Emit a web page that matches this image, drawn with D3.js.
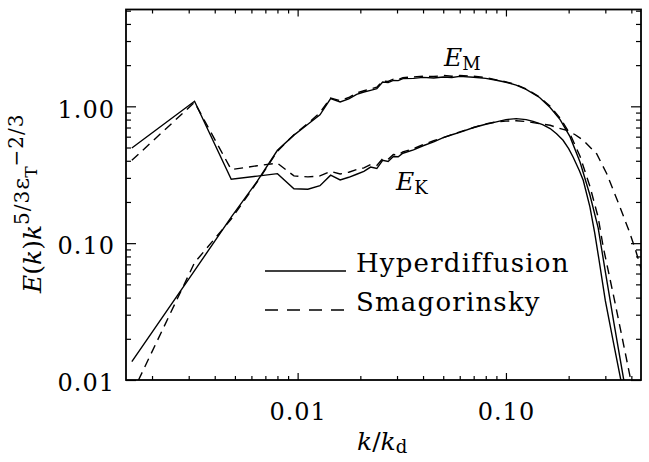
<!DOCTYPE html>
<html>
<head>
<meta charset="utf-8">
<script src="https://cdn.jsdelivr.net/npm/d3@7"></script>
<style>
body { margin: 0; background: #fff; }
svg { display: block; }
text { font-family: "DejaVu Serif", serif; fill: #000; }
</style>
</head>
<body>
<svg id="chart" width="649" height="462"></svg>
<script>
// wavenumbers k/kd of the first shells (shared by all four spectra)
const kLow = [0.0016, 0.0032, 0.0048, 0.0064, 0.0080, 0.0096, 0.0112, 0.0128, 0.0144, 0.0160,
              0.0176, 0.0192, 0.0208, 0.0224, 0.0240, 0.0256, 0.0272, 0.0288, 0.0304, 0.0320];

// Hyperdiffusion, kinetic (E_K, solid)
const hypKinLow = [0.496, 1.088, 0.293, 0.309, 0.322, 0.250, 0.248, 0.263, 0.314, 0.290,
                   0.303, 0.319, 0.335, 0.360, 0.351, 0.403, 0.395, 0.430, 0.428, 0.454];
const hypKinTailK = [0.036, 0.040, 0.045, 0.050, 0.055, 0.060, 0.070, 0.080, 0.090, 0.100, 0.112, 0.125, 0.135,
                     0.150, 0.163, 0.175, 0.188, 0.200, 0.210, 0.225, 0.235, 0.253, 0.267, 0.280, 0.300, 0.330, 0.360];
const hypKinTail = [0.48, 0.515, 0.55, 0.59, 0.62, 0.645, 0.70, 0.74, 0.77, 0.80, 0.813, 0.80, 0.777,
                    0.735, 0.688, 0.63, 0.565, 0.49, 0.426, 0.34, 0.288, 0.184, 0.118, 0.075, 0.038, 0.018, 0.0092];

// Hyperdiffusion, magnetic (E_M, solid)
const hypMagLow = [0.0136, 0.063, 0.155, 0.284, 0.477, 0.616, 0.739, 0.867, 1.138, 1.075,
                   1.134, 1.224, 1.272, 1.309, 1.346, 1.505, 1.49, 1.548, 1.54, 1.593];
const hypMagTailK = [0.036, 0.040, 0.045, 0.050, 0.055, 0.060, 0.070, 0.080, 0.090, 0.100, 0.112,
                     0.125, 0.145, 0.163, 0.182, 0.203, 0.227, 0.253, 0.277, 0.300, 0.330, 0.370];
const hypMagTail = [1.60, 1.628, 1.61, 1.636, 1.625, 1.655, 1.63, 1.60, 1.55, 1.50, 1.43,
                    1.33, 1.16, 0.98, 0.80, 0.60, 0.39, 0.225, 0.13, 0.062, 0.026, 0.0095];

// Smagorinsky, kinetic (dashed)
const smaKinLow = [0.403, 1.07, 0.345, 0.368, 0.384, 0.31, 0.305, 0.31, 0.335, 0.32,
                   0.33, 0.345, 0.355, 0.375, 0.37, 0.415, 0.41, 0.445, 0.44, 0.465];
const smaKinTailK = [0.036, 0.040, 0.045, 0.050, 0.055, 0.060, 0.070, 0.080, 0.090, 0.100, 0.112, 0.125, 0.135,
                     0.150, 0.163, 0.175, 0.196, 0.215, 0.235, 0.2725, 0.3044, 0.3526, 0.3938, 0.420, 0.450];
const smaKinTail = [0.49, 0.525, 0.56, 0.59, 0.62, 0.65, 0.70, 0.745, 0.77, 0.78, 0.785, 0.775, 0.76,
                    0.74, 0.727, 0.70, 0.668, 0.62, 0.565, 0.45, 0.323, 0.184, 0.118, 0.088, 0.062];

// Smagorinsky, magnetic (dashed)
const smaMagLow = [0.0079, 0.072, 0.15, 0.28, 0.47, 0.62, 0.75, 0.90, 1.15, 1.10,
                   1.16, 1.25, 1.30, 1.34, 1.38, 1.53, 1.52, 1.58, 1.57, 1.62];
const smaMagTailK = [0.036, 0.040, 0.045, 0.050, 0.055, 0.060, 0.070, 0.080, 0.090, 0.100, 0.112, 0.125,
                     0.145, 0.163, 0.182, 0.203, 0.227, 0.253, 0.277, 0.293, 0.330, 0.360, 0.400];
const smaMagTail = [1.64, 1.66, 1.65, 1.68, 1.66, 1.68, 1.66, 1.62, 1.56, 1.51, 1.44, 1.34,
                    1.17, 1.0, 0.82, 0.63, 0.43, 0.26, 0.155, 0.094, 0.04, 0.021, 0.0095];

// axis ticks
const xTickValues = [0.01, 0.1];
const xTickLabels = ["0.01", "0.10"];
const yTickValues = [0.01, 0.1, 1];
const yTickLabels = ["0.01", "0.10", "1.00"];
const legendNames = ["Hyperdiffusion", "Smagorinsky"];

const svg = d3.select("#chart");
const plotLeft = 126, plotRight = 641, plotTop = 9.5, plotBottom = 380;

let xScale = d3.scaleLog().domain([0.0015, 0.445]).range([plotLeft, plotRight]);
let yScale = d3.scaleLog().domain([0.01, 5.1]).range([plotBottom, plotTop]);

// build [k, E] pairs
function pairs(ks, es) {
    return ks.map(function (k, i) { return [k, es[i]]; });
}
let series = [
    {pts: pairs(kLow.concat(hypKinTailK), hypKinLow.concat(hypKinTail)), dash: null},
    {pts: pairs(kLow.concat(hypMagTailK), hypMagLow.concat(hypMagTail)), dash: null},
    {pts: pairs(kLow.concat(smaKinTailK), smaKinLow.concat(smaKinTail)), dash: "9,6"},
    {pts: pairs(kLow.concat(smaMagTailK), smaMagLow.concat(smaMagTail)), dash: "9,6"}
];

svg.append("clipPath").attr("id", "plotClip")
    .append("rect")
    .attr("x", plotLeft).attr("y", plotTop)
    .attr("width", plotRight - plotLeft).attr("height", plotBottom - plotTop);

let line = d3.line()
    .x(function (d) { return xScale(d[0]); })
    .y(function (d) { return yScale(d[1]); });

svg.append("g").attr("clip-path", "url(#plotClip)")
    .selectAll("path")
    .data(series)
    .enter().append("path")
    .attr("d", function (d) { return line(d.pts); })
    .attr("fill", "none")
    .attr("stroke", "#000")
    .attr("stroke-width", 1.4)
    .attr("stroke-dasharray", function (d) { return d.dash; });

// minor ticks from the log scales themselves
let xMinor = xScale.ticks().filter(function (v) { return xTickValues.indexOf(v) < 0; });
let yMinor = yScale.ticks().filter(function (v) { return yTickValues.indexOf(v) < 0; });

function drawAxis(axisFn, scale, values, size, tx, ty) {
    let g = svg.append("g")
        .attr("transform", "translate(" + tx + "," + ty + ")")
        .call(axisFn(scale).tickValues(values).tickSizeInner(size).tickSizeOuter(0).tickFormat(""));
    g.select(".domain").remove();
    g.selectAll("line").attr("stroke", "#000").attr("stroke-width", 1.2);
    return g;
}

// bottom / top (ticks point inwards)
drawAxis(d3.axisBottom, xScale, xMinor, -4, 0, plotBottom);
drawAxis(d3.axisTop, xScale, xMinor, -4, 0, plotTop);
let xMajor = drawAxis(d3.axisBottom, xScale, xTickValues, -7, 0, plotBottom);
drawAxis(d3.axisTop, xScale, xTickValues, -7, 0, plotTop);

// left / right
drawAxis(d3.axisLeft, yScale, yMinor, -5, plotLeft, 0);
drawAxis(d3.axisRight, yScale, yMinor, -5, plotRight, 0);
let yMajor = drawAxis(d3.axisLeft, yScale, yTickValues, -10, plotLeft, 0);
drawAxis(d3.axisRight, yScale, yTickValues, -10, plotRight, 0);

xMajor.selectAll(".tick text")
    .text(function (d, i) { return xTickLabels[i]; })
    .attr("y", 40).attr("dy", 0)
    .attr("font-size", 24).attr("font-family", "DejaVu Serif")
    .attr("letter-spacing", 1);

yMajor.selectAll(".tick text")
    .text(function (d, i) { return yTickLabels[i]; })
    .attr("x", -11).attr("dy", "0.45em")
    .attr("font-size", 24).attr("font-family", "DejaVu Serif")
    .attr("letter-spacing", 1);

// frame
svg.append("rect")
    .attr("x", plotLeft).attr("y", plotTop)
    .attr("width", plotRight - plotLeft).attr("height", plotBottom - plotTop)
    .attr("fill", "none").attr("stroke", "#000").attr("stroke-width", 1.8);

// curve labels
function subLabel(x, y, main, sub) {
    let t = svg.append("text").attr("x", x).attr("y", y).attr("font-size", 25);
    t.append("tspan").attr("font-style", "italic").text(main);
    t.append("tspan").attr("font-size", 18).attr("dy", 4).text(sub);
}
subLabel(444, 66, "E", "M");
subLabel(396, 190, "E", "K");

// x title
let xt = svg.append("text").attr("x", 357).attr("y", 450).attr("font-size", 25);
xt.append("tspan").attr("font-style", "italic").text("k");
xt.append("tspan").text("/");
xt.append("tspan").attr("font-style", "italic").text("k");
xt.append("tspan").attr("font-size", 18).attr("dy", 3).text("d");

// y title
let yt = svg.append("text")
    .attr("transform", "translate(41,293) rotate(-90)")
    .attr("font-size", 25);
yt.append("tspan").attr("font-style", "italic").text("E");
yt.append("tspan").text("(");
yt.append("tspan").attr("font-style", "italic").text("k");
yt.append("tspan").text(")");
yt.append("tspan").attr("font-style", "italic").text("k");
yt.append("tspan").attr("font-size", 20).attr("dy", -12).attr("letter-spacing", 1).text("5/3");
yt.append("tspan").attr("font-size", 23).text("ε");
yt.append("tspan").attr("font-size", 17).attr("dy", 8).text("T");
yt.append("tspan").attr("font-size", 20).attr("dy", -14).attr("letter-spacing", 1).text("−2/3");

// legend
let legend = svg.append("g").selectAll("g")
    .data(legendNames)
    .enter().append("g")
    .attr("transform", function (d, i) { return "translate(0," + (271 + i * 39) + ")"; });
legend.append("line")
    .attr("x1", 265).attr("x2", 346).attr("y1", 0).attr("y2", 0)
    .attr("stroke", "#000").attr("stroke-width", 1.4)
    .attr("stroke-dasharray", function (d, i) { return i === 0 ? null : "13,9"; });
legend.append("text")
    .attr("x", 356).attr("y", 1)
    .attr("font-size", 26)
    .attr("letter-spacing", 1.2)
    .text(function (d) { return d; });
</script>
</body>
</html>
